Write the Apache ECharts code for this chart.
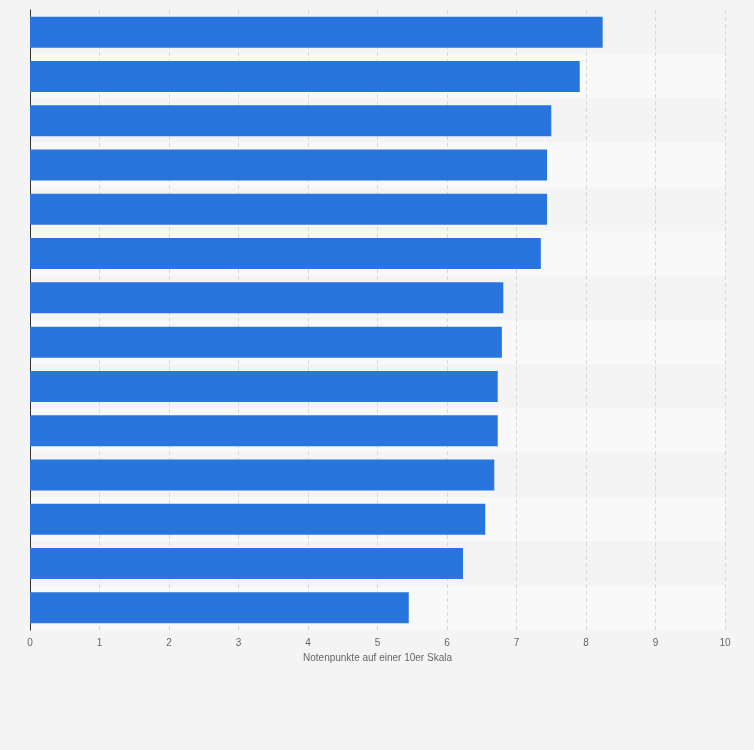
<!DOCTYPE html>
<html><head><meta charset="utf-8">
<script src="https://cdn.jsdelivr.net/npm/echarts@6/dist/echarts.min.js"></script>
<style>html,body{margin:0;padding:0;background:#f4f4f4}#c{width:754px;height:750px}</style>
</head><body><div id="c"></div>
<script>
const categories = ['1','2','3','4','5','6','7','8','9','10','11','12','13','14'];
const values = [8.24, 7.91, 7.50, 7.44, 7.44, 7.35, 6.81, 6.79, 6.73, 6.73, 6.68, 6.55, 6.23, 5.45];
const xTicks = [0,1,2,3,4,5,6,7,8,9,10];
const xTitle = 'Notenpunkte auf einer 10er Skala';
const chart = echarts.init(document.getElementById('c'));
chart.setOption({
  backgroundColor: '#f4f4f4',
  animation: false,
  grid: { left: 30, right: 29, top: 10, bottom: 120 },
  xAxis: {
    type: 'value', min: 0, max: 10, interval: 1,
    name: xTitle, nameLocation: 'middle', nameGap: 22,
    nameTextStyle: { color: '#666', fontSize: 10, fontFamily: 'Arial, Liberation Sans' },
    axisLabel: { color: '#666', fontSize: 10, fontFamily: 'Arial, Liberation Sans', formatter: v => xTicks.includes(v) ? String(v) : '' },
    axisLine: { show: false }, axisTick: { show: false },
    splitLine: { show: true, lineStyle: { color: '#d8d8d8', type: [4, 3] } }
  },
  yAxis: {
    type: 'category', data: categories, inverse: true,
    axisLabel: { show: false }, axisTick: { show: false },
    axisLine: { show: true, lineStyle: { color: '#333', width: 1 } },
    splitArea: { show: true, areaStyle: { color: ['#f4f4f4', '#f9f9f9'] } }
  },
  series: [{
    type: 'bar', data: values, barCategoryGap: '30%',
    itemStyle: { color: '#2876dd' }
  }]
});
</script></body></html>
